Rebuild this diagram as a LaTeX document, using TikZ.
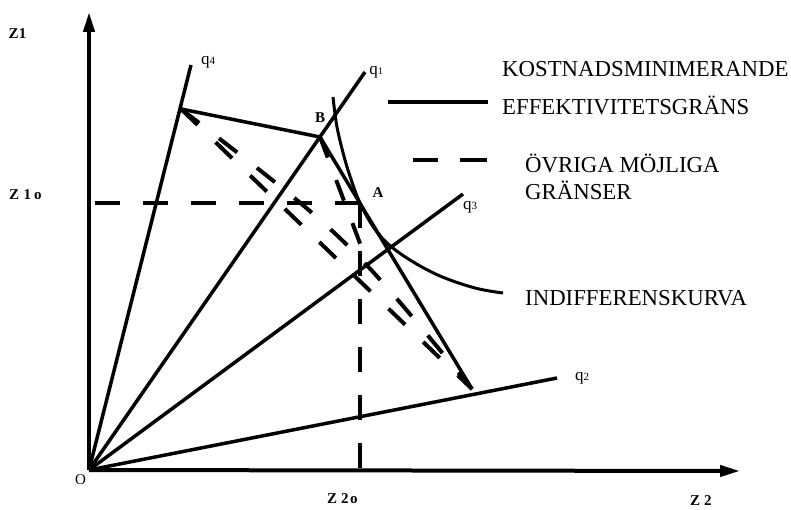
\documentclass[tikz,border=0pt]{standalone}
\usepackage{fontspec}
\setmainfont{Liberation Serif}
\usetikzlibrary{arrows.meta}
\begin{document}
\begin{tikzpicture}[x=1pt,y=-1pt,
  ray/.style={line width=3.5pt},
  axisline/.style={line width=4pt,-{Triangle[length=20pt,width=11pt]}},
  frontier/.style={line width=3.5pt,line join=miter},
  otherline/.style={line width=4pt,dash pattern=on 23pt off 25pt},
  refline/.style={line width=3.5pt,dash pattern=on 25pt off 23pt},
  blbl/.style={font=\fontsize{15}{18}\selectfont\bfseries,inner sep=0pt},
  qlbl/.style={font=\fontsize{17}{20}\selectfont,inner sep=0pt},
  leg/.style={font=\fontsize{22.8}{27}\selectfont,inner sep=0pt,anchor=base west}]
\useasboundingbox (0,0) rectangle (791,510);
% key points
\coordinate (O) at (89,470);
\coordinate (ytip) at (89,12);
\coordinate (xtip) at (740,471);
\coordinate (q4e) at (191,65);
\coordinate (q1e) at (365,72);
\coordinate (q3e) at (463,194);
\coordinate (q2e) at (557,378);
\coordinate (C) at (181,109);
\coordinate (B) at (320,137);
\coordinate (A) at (360,203);
\coordinate (E) at (472,389);
\coordinate (Ay) at (89,203);
\coordinate (Ax) at (360,470);
\coordinate (D3e) at (367,262);
% axes
\draw[axisline] (O) -- (ytip);
\draw[axisline] (O) -- (xtip);
% rays
\draw[ray] (O) -- (q4e);
\draw[ray] (O) -- (q1e);
\draw[ray] (O) -- (q3e);
\draw[ray] (O) -- (q2e);
% reference dashed lines
\draw[refline] (A) -- (Ay);
\draw[refline] (A) -- (Ax);
% cost-minimising frontier
\draw[frontier] (C) -- (B) -- (E);
% other possible frontiers
\draw[otherline] (C) -- (E);
\draw[otherline] (C) .. controls (347,237) .. (E);
\draw[otherline,dash pattern=on 22pt off 24pt] (B) -- (D3e);
% indifference curve
\draw[line width=3pt] plot[smooth,tension=0.6] coordinates {(333,97) (337,127) (345,160) (353,185) (360,203) (372,225) (387,243) (410,260) (440,276) (475,288) (503,293)};
% legend
\coordinate (la) at (388,102);
\coordinate (lb) at (488,102);
\draw[line width=3.5pt] (la) -- (lb);
\coordinate (da) at (413,160);
\coordinate (db) at (438,160);
\coordinate (dc) at (460,160);
\coordinate (dd) at (487,160);
\draw[line width=3.5pt] (da) -- (db) (dc) -- (dd);
\node[leg] (t1) at (502,77) {KOSTNADSMINIMERANDE};
\node[leg] (t2) at (502,115) {EFFEKTIVITETSGRÄNS};
\node[leg] (t3) at (525,173) {ÖVRIGA MÖJLIGA};
\node[leg] (t4) at (525,200) {GRÄNSER};
\node[leg] (t5) at (525,305) {INDIFFERENSKURVA};
% labels
\node[blbl] (z1) at (17.5,33.5) {Z1};
\node[blbl,anchor=base west] (z1o) at (9,200) {Z\hspace{4.5pt}1\hspace{3pt}o};
\node[blbl,anchor=base west] (z2o) at (327,503) {Z\hspace{4pt}2\hspace{1.5pt}o};
\node[blbl,anchor=base west] (z2) at (690,505) {Z\hspace{4pt}2};
\node[font=\fontsize{15}{18}\selectfont,inner sep=0pt] (Ol) at (80.5,480) {O};
\node[blbl] (Bl) at (320,118) {B};
\node[blbl] (Al) at (378,193) {A};
\node[qlbl] (q4l) at (208,62) {q{\fontsize{11}{11}\selectfont 4}};
\node[qlbl] (q1l) at (376,72) {q{\fontsize{10}{10}\selectfont 1}};
\node[qlbl] (q3l) at (470,207) {q{\fontsize{11}{11}\selectfont 3}};
\node[qlbl] (q2l) at (582,378) {q{\fontsize{11}{11}\selectfont 2}};
\end{tikzpicture}
\end{document}
